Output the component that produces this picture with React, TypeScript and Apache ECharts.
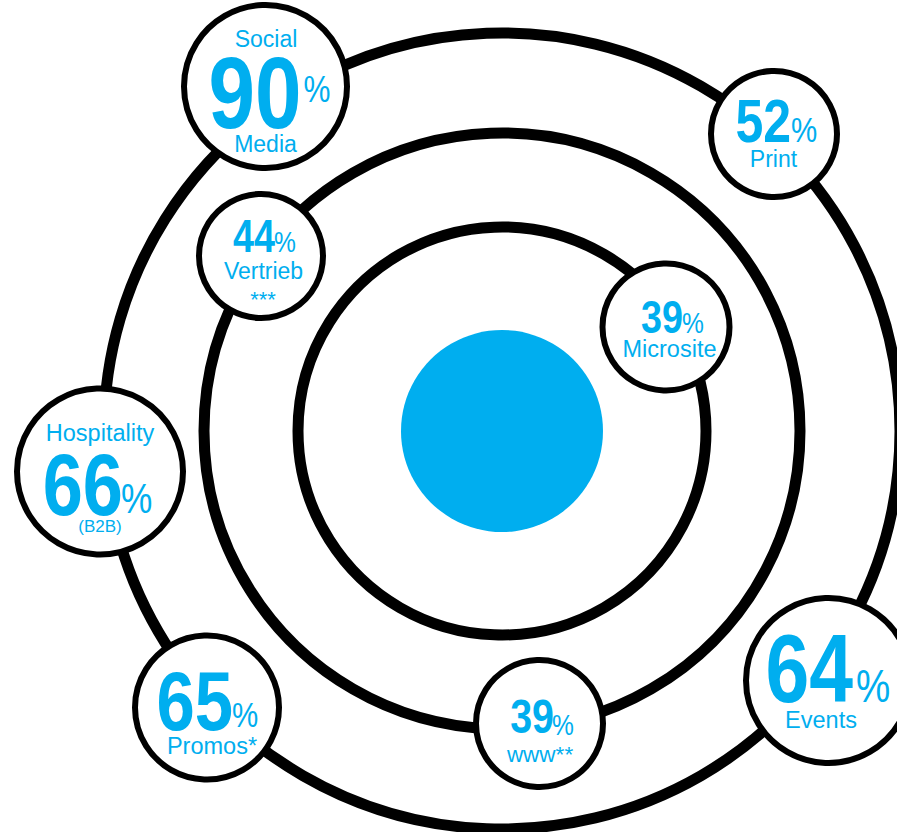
import React, { useEffect, useRef } from "react";
import * as echarts from "echarts";

// ---- data ----
const categories = ["Social Media", "Print", "Vertrieb", "Microsite", "Hospitality (B2B)", "Promos", "www", "Events"];
const values = [90, 52, 44, 39, 66, 65, 39, 64];
const topCaptions = ["Social", "", "", "", "Hospitality", "", "", ""];
const bottomCaptions = [["Media"], ["Print"], ["Vertrieb", "***"], ["Microsite"], ["(B2B)"], ["Promos*"], ["www**"], ["Events"]];

// ---- layout (pixel space of the 897x832 canvas) ----
const W = 897;
const H = 832;
const CENTER = [502, 431];
const ringRadii = [204, 298, 398];
const coreRadius = 101;

// offsets are relative to the bubble centre; "by" = text baseline offset
type Cap = { dx: number; by: number; fs: number };
type Layout = {
  x: number; y: number; r: number;
  top?: Cap;
  num: { dx: number; by: number; fs: number };
  pct: { dx: number; by: number; fs: number };
  bottom: Cap[];
};

const bubbleLayout: Layout[] = [
  { x: 265.5, y: 86.5, r: 81.5, top: { dx: 0.5, by: -39.5, fs: 23 }, num: { dx: 36, by: 41.5, fs: 102 }, pct: { dx: 38, by: 15.5, fs: 37 }, bottom: [{ dx: 0, by: 65.5, fs: 23 }] },
  { x: 774, y: 134, r: 63, num: { dx: 17, by: 8, fs: 61 }, pct: { dx: 17, by: 8, fs: 36 }, bottom: [{ dx: -0.5, by: 33, fs: 23 }] },
  { x: 261, y: 256, r: 62, num: { dx: 14, by: -4, fs: 46 }, pct: { dx: 13, by: -4, fs: 30 }, bottom: [{ dx: 2.5, by: 23, fs: 23 }, { dx: 2, by: 51, fs: 22 }] },
  { x: 666, y: 327, r: 63.5, num: { dx: 17, by: 6, fs: 46 }, pct: { dx: 16, by: 6, fs: 30 }, bottom: [{ dx: 3.5, by: 30, fs: 23.5 }] },
  { x: 100, y: 471.5, r: 83, top: { dx: 0, by: -30.5, fs: 23.5 }, num: { dx: 23, by: 43.5, fs: 88 }, pct: { dx: 21, by: 41.5, fs: 43 }, bottom: [{ dx: 0, by: 60.5, fs: 17 }] },
  { x: 207, y: 707.5, r: 72, num: { dx: 26, by: 22.5, fs: 84 }, pct: { dx: 25, by: 19.5, fs: 36 }, bottom: [{ dx: 5, by: 46.5, fs: 23.5 }] },
  { x: 539.5, y: 723.5, r: 63.5, num: { dx: 14.5, by: 9.5, fs: 48 }, pct: { dx: 12.5, by: 11.5, fs: 30 }, bottom: [{ dx: 0.5, by: 38.5, fs: 22.5 }] },
  { x: 828.5, y: 680.5, r: 82.5, num: { dx: 24.5, by: 21.5, fs: 96 }, pct: { dx: 27.5, by: 21.5, fs: 47 }, bottom: [{ dx: -7.5, by: 47.5, fs: 23.5 }] },
];

const BLUE = "#00AEEF";
const SANS = "'Liberation Sans', Arial, Helvetica, sans-serif";
const CENTRAL = 0.3465; // distance from SVG "central" baseline to alphabetic baseline, in em
const NARROW_SCALE = 0.82;

function textEl(text: string, x: number, baseline: number, fs: number, align: string, bold: boolean, scaleX = 1) {
  return {
    type: "text",
    x,
    y: baseline - CENTRAL * fs,
    scaleX,
    silent: true,
    style: {
      text,
      fontFamily: SANS,
      fontSize: fs,
      fontWeight: bold ? "bold" : "normal",
      fill: BLUE,
      align,
      verticalAlign: "middle",
    },
  };
}

export default function App() {
  const ref = useRef<HTMLDivElement>(null);
  useEffect(() => {
    if (!ref.current) return;
    const chart = echarts.init(ref.current, null, { renderer: "svg" });
    chart.setOption({
      animation: false,
      backgroundColor: "#ffffff",
      grid: { left: 0, right: 0, top: 0, bottom: 0 },
      xAxis: { type: "value", min: 0, max: W, show: false },
      yAxis: { type: "value", min: 0, max: H, inverse: true, show: false },
      series: [
        {
          name: "rings",
          type: "scatter",
          silent: true,
          clip: false,
          symbol: "circle",
          itemStyle: { color: "rgba(0,0,0,0)", borderColor: "#000000", borderWidth: 11, opacity: 1 },
          data: ringRadii.map((r) => ({ value: CENTER, symbolSize: 2 * r })),
          z: 1,
        },
        {
          name: "core",
          type: "scatter",
          silent: true,
          clip: false,
          symbol: "circle",
          itemStyle: { color: BLUE, opacity: 1 },
          data: [{ value: CENTER, symbolSize: 2 * coreRadius }],
          z: 2,
        },
        {
          name: "channels",
          type: "custom",
          silent: true,
          clip: false,
          z: 3,
          encode: { x: 0, y: 1 },
          data: categories.map((name, i) => ({ name, value: [bubbleLayout[i].x, bubbleLayout[i].y, values[i]] })),
          renderItem: (params: any, api: any) => {
            const i = params.dataIndex;
            const L = bubbleLayout[i];
            const [cx, cy] = api.coord([api.value(0), api.value(1)]);
            const children: any[] = [
              {
                type: "circle",
                shape: { cx, cy, r: L.r },
                style: { fill: "#ffffff", stroke: "#000000", lineWidth: 6 },
                silent: true,
              },
            ];
            if (topCaptions[i] && L.top) {
              children.push(textEl(topCaptions[i], cx + L.top.dx, cy + L.top.by, L.top.fs, "center", false));
            }
            children.push(textEl(String(api.value(2)), cx + L.num.dx, cy + L.num.by, L.num.fs, "right", true, NARROW_SCALE));
            children.push(textEl("%", cx + L.pct.dx, cy + L.pct.by, L.pct.fs, "left", false, NARROW_SCALE));
            bottomCaptions[i].forEach((c, k) => {
              const b = L.bottom[k];
              children.push(textEl(c, cx + b.dx, cy + b.by, b.fs, "center", false));
            });
            return { type: "group", children };
          },
        },
      ],
    });
    return () => chart.dispose();
  }, []);
  return <div ref={ref} style={{ position: "absolute", left: 0, top: 0, width: W, height: H }} />;
}
